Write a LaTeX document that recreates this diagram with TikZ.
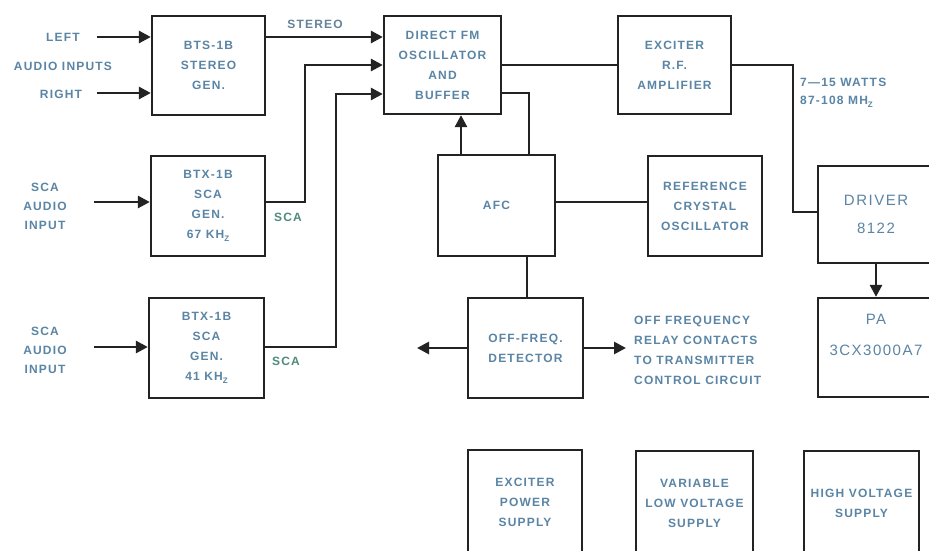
\documentclass[tikz,border=0pt]{standalone}
\usepackage{fontspec}
\setmainfont{Liberation Sans}[LetterSpace=10]
\usetikzlibrary{arrows.meta,calc}
\definecolor{ink}{HTML}{232323}
\definecolor{txt}{HTML}{5A85A5}
\definecolor{grn}{HTML}{4E8C7C}
\begin{document}
\begin{tikzpicture}[x=1pt,y=-1pt,
  box/.style={draw=ink,line width=2.3pt,inner sep=0pt,align=center,text=txt,
    font=\bfseries\fontsize{12}{20}\selectfont},
  sz/.style 2 args={minimum width=#1,minimum height=#2},
  big/.style={font=\fontsize{15}{28}\selectfont},
  wire/.style={draw=ink,line width=2.7pt},
  arr/.style={wire,-{Triangle[length=12pt,width=12pt]}},
  lbl/.style={text=txt,inner sep=0pt,align=center,font=\bfseries\fontsize{12}{19}\selectfont}]
\useasboundingbox (0,0) rectangle (929,551);
\fill[white] (0,0) rectangle (929,551);
% boxes
\node[box,sz={113}{99}] (bts) at (208.5,65.5) {BTS-1B\\STEREO\\GEN.};
\node[box,sz={114}{100}] (sca67) at (208,206) {BTX-1B\\SCA\\GEN.\\67 KH\raisebox{-3pt}{\footnotesize Z}};
\node[box,sz={115}{100}] (sca41) at (206.5,348) {BTX-1B\\SCA\\GEN.\\41 KH\raisebox{-3pt}{\footnotesize Z}};
\node[box,sz={117}{98}] (dfm) at (442.5,65) {DIRECT FM\\OSCILLATOR\\AND\\BUFFER};
\node[box,sz={113}{98}] (exc) at (674.5,65) {EXCITER\\R.F.\\AMPLIFIER};
\node[box,sz={117}{101}] (afc) at (496.5,205.5) {AFC};
\node[box,sz={114}{100}] (ref) at (705,206) {REFERENCE\\CRYSTAL\\OSCILLATOR};
\node[box,big,sz={116}{97}] (drv) at (876,214.5) {DRIVER\\8122};
\node[box,sz={116}{99}] (pa) at (876,347.5) {};
\node[lbl,font=\fontsize{15}{31}\selectfont] (patext) at (876,335) {PA\\3CX3000A7};
\node[box,sz={115}{100}] (off) at (525.5,348) {OFF-FREQ.\\DETECTOR};
\node[box,sz={114}{104}] (eps) at (525,502) {EXCITER\\POWER\\SUPPLY};
\node[box,sz={117}{104}] (vlv) at (694.5,503) {VARIABLE\\LOW VOLTAGE\\SUPPLY};
\node[box,sz={115}{104}] (hv) at (861.5,503) {HIGH VOLTAGE\\SUPPLY};
% labels
\node[lbl] (left) at (63,37) {LEFT};
\node[lbl] (ain) at (63,66) {AUDIO INPUTS};
\node[lbl] (right) at (61,94) {RIGHT};
\node[lbl,text=txt!70!gray] (stereo) at (315,24) {STEREO};
\node[lbl] (in3) at (45,206) {SCA\\AUDIO\\INPUT};
\node[lbl] (in4) at (45,350) {SCA\\AUDIO\\INPUT};
\node[lbl,text=grn] (s67) at (288,217) {SCA};
\node[lbl,text=grn] (s41) at (286,361) {SCA};
\node[lbl,anchor=west,align=left,font=\bfseries\fontsize{12}{18}\selectfont] (watts) at (800,93) {7—15 WATTS\\87-108 MH\raisebox{-3pt}{\footnotesize Z}};
\node[lbl,anchor=west,align=left,font=\bfseries\fontsize{12}{20}\selectfont] (offtxt) at (634,350) {OFF FREQUENCY\\RELAY CONTACTS\\TO TRANSMITTER\\CONTROL CIRCUIT};
% coordinates
\coordinate (iL) at (97,37);
\coordinate (iR) at (97,93);
\coordinate (i3) at (94,202);
\coordinate (i4) at (94,347);
\coordinate (j1) at (305,65);
\coordinate (j2) at (336,94);
\coordinate (j3) at (793,212);
\coordinate (sca67R) at ([yshift=4pt]sca67.east);
\coordinate (sca41R) at ([yshift=1pt]sca41.east);
\coordinate (dfmR2) at ([yshift=-28pt]dfm.east);
\coordinate (afcT1) at ([xshift=-35.5pt]afc.north);
\coordinate (afcT2) at ([xshift=32.5pt]afc.north);
\coordinate (afcB) at ([xshift=30.5pt]afc.south);
\coordinate (afcR) at ([yshift=3.5pt]afc.east);
\coordinate (oL) at (417,348);
\coordinate (oR) at (626,348);
% connectors
\draw[arr] (iL) -- (iL -| bts.west);
\draw[arr] (iR) -- (iR -| bts.west);
\draw[arr] (iL -| bts.east) -- (iL -| dfm.west);
\draw[arr] (i3) -- (i3 -| sca67.west);
\draw[arr] (i4) -- (i4 -| sca41.west);
\draw[arr] (sca67R) -| (j1) -- (j1 -| dfm.west);
\draw[arr] (sca41R) -| (j2) -- (j2 -| dfm.west);
\draw[wire] (dfm.east) -- (dfm.east -| exc.west);
\draw[wire] (exc.east) -| (j3) -- (j3 -| drv.west);
\draw[arr] (drv.south) -- (pa.north);
\draw[arr] (afcT1) -- (afcT1 |- dfm.south);
\draw[wire] (dfmR2) -| (afcT2);
\draw[wire] (afcR) -- (afcR -| ref.west);
\draw[wire] (afcB) -- (afcB |- off.north);
\draw[arr] (off.west) -- (oL);
\draw[arr] (off.east) -- (oR);
\end{tikzpicture}
\end{document}
